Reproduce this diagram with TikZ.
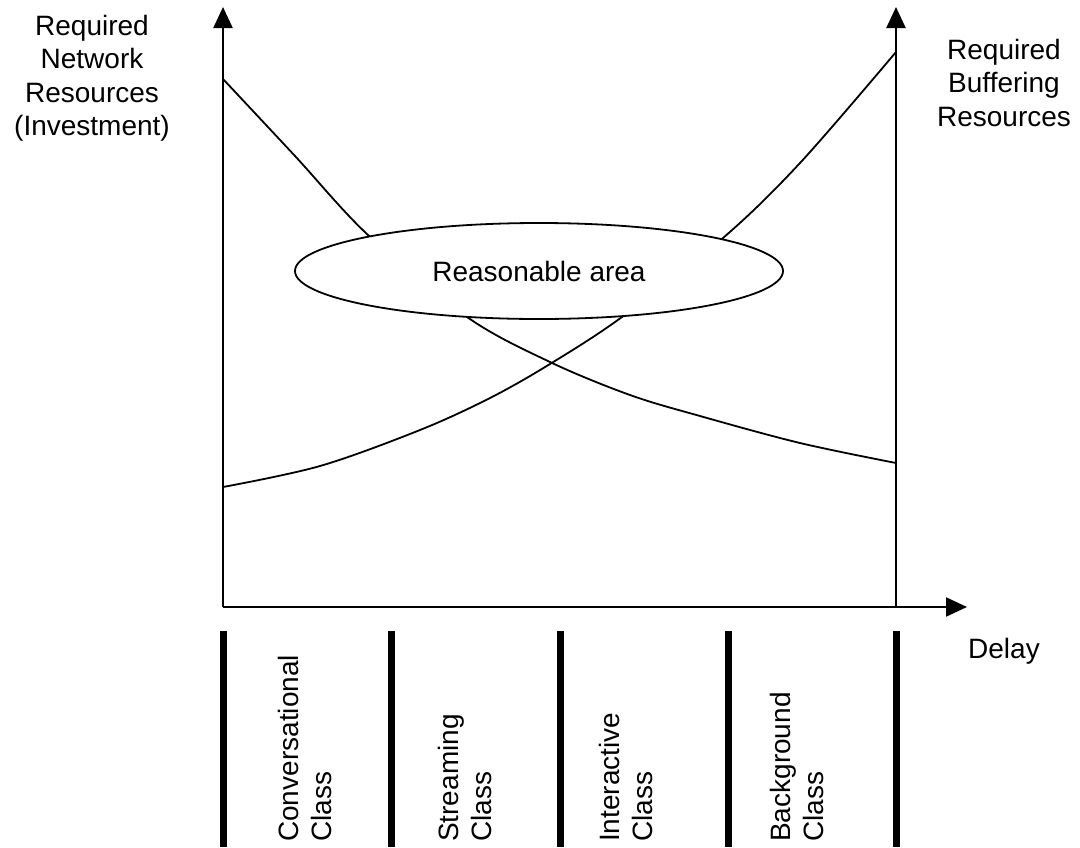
\documentclass[tikz,border=0pt]{standalone}
\usepackage{fontspec}
\setmainfont{Liberation Sans}
\usetikzlibrary{arrows.meta,shapes.geometric}

\begin{document}
\begin{tikzpicture}[x=1pt,y=-1pt,
  every node/.style={inner sep=0pt,font=\fontsize{28}{33.5}\selectfont},
  axis/.style={line width=2.2pt,-{Triangle[length=21pt,width=19pt]}},
  curve/.style={line width=1.8pt,smooth,tension=0.55},
  classbar/.style={line width=7pt},
  classlabel/.style={rotate=90,anchor=north west,align=left},
  area/.style={ellipse,draw,line width=1.8pt,fill=white,minimum width=488pt,minimum height=96pt}]
\useasboundingbox (0,0) rectangle (1080,847);

% axis corners and ends
\coordinate (O) at (223,607);
\coordinate (Ytop) at (223,7);
\coordinate (R0) at (896,607);
\coordinate (Rtop) at (896,7);
\coordinate (Xend) at (967,607);

% network resources: falling with delay
\draw[curve] plot coordinates {(223,79) (295,156) (368,235) (467,317) (550,362) (630,395) (700,416) (800,443) (896,463)};
% buffering resources: rising with delay
\draw[curve] plot coordinates {(223,487) (320,466) (420,430) (490,398) (550,364) (622,317) (723,238) (800,163) (896,52)};

\node[area] (ra) at (539,271) {Reasonable area};

% axes
\draw[axis] (O) -- (Ytop);
\draw[axis] (R0) -- (Rtop);
\draw[axis] (O) -- (Xend);

% axis titles
\node[align=center,anchor=north] (ylab) at (92,14.6) {Required\\Network\\Resources\\(Investment)};
\node[align=center,anchor=north] (ylab2) at (1004,38.6) {Required\\Buffering\\Resources};
\node[anchor=base] (dlab) at (1004,658) {Delay};

% class separators
\foreach \n/\x in {b0/223,b1/391,b2/560,b3/728,b4/896}{
  \coordinate (\n t) at (\x,631);
  \coordinate (\n b) at (\x,847);
  \draw[classbar] (\n t) -- (\n b);
}

% class names
\node[classlabel] (c1) at (277.6,842) {Conversational\\Class};
\node[classlabel] (c2) at (437.6,842) {Streaming\\Class};
\node[classlabel] (c3) at (598.6,842) {Interactive\\Class};
\node[classlabel] (c4) at (769.6,842) {Background\\Class};
\end{tikzpicture}
\end{document}
